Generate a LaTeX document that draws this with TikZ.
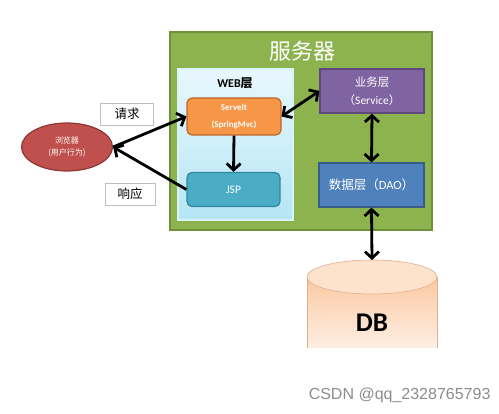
\documentclass[tikz,border=0pt]{standalone}
\usepackage{fontspec}
\setmainfont{Carlito}
\newfontfamily\cjk{Noto Sans CJK SC}
\newfontfamily\wmfont{Liberation Sans}
\usetikzlibrary{positioning,arrows.meta,shapes.geometric}

\definecolor{srvgreen}{HTML}{8DB34F}
\definecolor{srvedge}{HTML}{6F8F3A}
\definecolor{webtop}{HTML}{E8F8FD}
\definecolor{webbot}{HTML}{B5E5F5}
\definecolor{svlfill}{HTML}{F79646}
\definecolor{svledge}{HTML}{C0662A}
\definecolor{jspfill}{HTML}{4BACC6}
\definecolor{jspedge}{HTML}{31859C}
\definecolor{bizfill}{HTML}{8064A2}
\definecolor{bizedge}{HTML}{5F497A}
\definecolor{daofill}{HTML}{4F81BD}
\definecolor{daoedge}{HTML}{385D8A}
\definecolor{brwfill}{HTML}{C0504D}
\definecolor{brwedge}{HTML}{8C3836}
\definecolor{dbtop}{HTML}{FDE2CC}
\definecolor{dbbody}{HTML}{FBC9A2}
\definecolor{dbedge}{HTML}{E3AE8E}

\begin{document}
\begin{tikzpicture}[x=1pt,y=-1pt,
    layer/.style={draw,line width=1.2pt,text=white,inner sep=0pt,align=center},
    tag/.style={draw=black!25,fill=white,line width=0.6pt,minimum height=22pt,
      inner sep=0pt,font=\cjk\fontsize{12.5}{14}\selectfont},
    link/.style={line width=2.8pt,-{Straight Barb[length=6.5pt,width=14pt]}},
    both/.style={line width=2.8pt,{Straight Barb[length=6.5pt,width=14pt]}-{Straight Barb[length=6.5pt,width=14pt]}}]
  \useasboundingbox (0,0) rectangle (499,414);

  \node[draw=srvedge,fill=srvgreen,line width=1.8pt,minimum width=262pt,minimum height=198pt] (srv) at (301,131) {};
  \node[text=white,font=\cjk\fontsize{22}{24}\selectfont] (srvtitle) at (302,51) {服务器};

  \node[draw=white!85!cyan,line width=1.2pt,top color=webtop,bottom color=webbot,
    minimum width=115pt,minimum height=151pt] (web) at (235.5,144.5) {};
  \node[font=\bfseries\fontsize{12}{14}\selectfont] (webtitle) at (235,83) {WEB{\cjk 层}};

  \node[layer,draw=svledge,fill=svlfill,rounded corners=5pt,minimum width=94pt,minimum height=37pt,
    font=\bfseries\fontsize{9}{17}\selectfont] (servlet) at (234,116.5) {Servelt\\(SpringMvc)};
  \node[layer,draw=jspedge,fill=jspfill,rounded corners=5pt,minimum width=93pt,minimum height=34pt,
    font=\fontsize{11.5}{13}\selectfont] (jsp) at (233.5,189.5) {JSP};

  \node[layer,draw=bizedge,fill=bizfill,minimum width=104pt,minimum height=44pt,
    font=\fontsize{11.5}{18}\selectfont] (service) at (372,91) {{\cjk 业务层}\\{\cjk （}Service{\cjk ）}};
  \node[layer,draw=daoedge,fill=daofill,minimum width=105pt,minimum height=44pt,
    font=\fontsize{12.5}{14}\selectfont] (dao) at (371.5,185) {{\cjk 数据层（}DAO{\cjk ）}};

  \fill[top color=dbbody,bottom color=dbbody!30!white] (307,277) rectangle (437,348);
  \draw[dbedge,line width=0.6pt] (307,348) -- (307,277) (437,277) -- (437,348);
  \draw[dbedge,fill=dbtop,line width=0.6pt] (372,277) ellipse [x radius=65pt,y radius=17pt];
  \coordinate (dbtopc) at (372,260);
  \node[font=\bfseries\fontsize{27}{30}\selectfont] (db) at (372,323) {DB};

  \node[draw=brwedge,fill=brwfill,line width=1.2pt,ellipse,minimum width=91pt,minimum height=48pt,
    inner sep=0pt,text=white,align=center,font=\cjk\fontsize{8}{12}\selectfont] (browser) at (67,147) {浏览器\\(用户行为)};

  \node[tag,minimum width=53pt] (req) at (127,114) {请求};
  \node[tag,minimum width=50pt] (resp) at (130,194) {响应};

  \draw[link] (browser.east) -- (servlet.west);
  \draw[link] (jsp.west) -- (browser.east);
  \draw[link] (servlet.south) -- (jsp.north);
  \draw[both] (servlet.east) -- (service.west);
  \draw[both] (service.south) -- (dao.north);
  \draw[both] (dao.south) -- (dbtopc);

  \node[anchor=east,text=black!45,font=\wmfont\fontsize{16}{18}\selectfont] (mark) at (494,395) {CSDN @qq\_2328765793};
\end{tikzpicture}
\end{document}
